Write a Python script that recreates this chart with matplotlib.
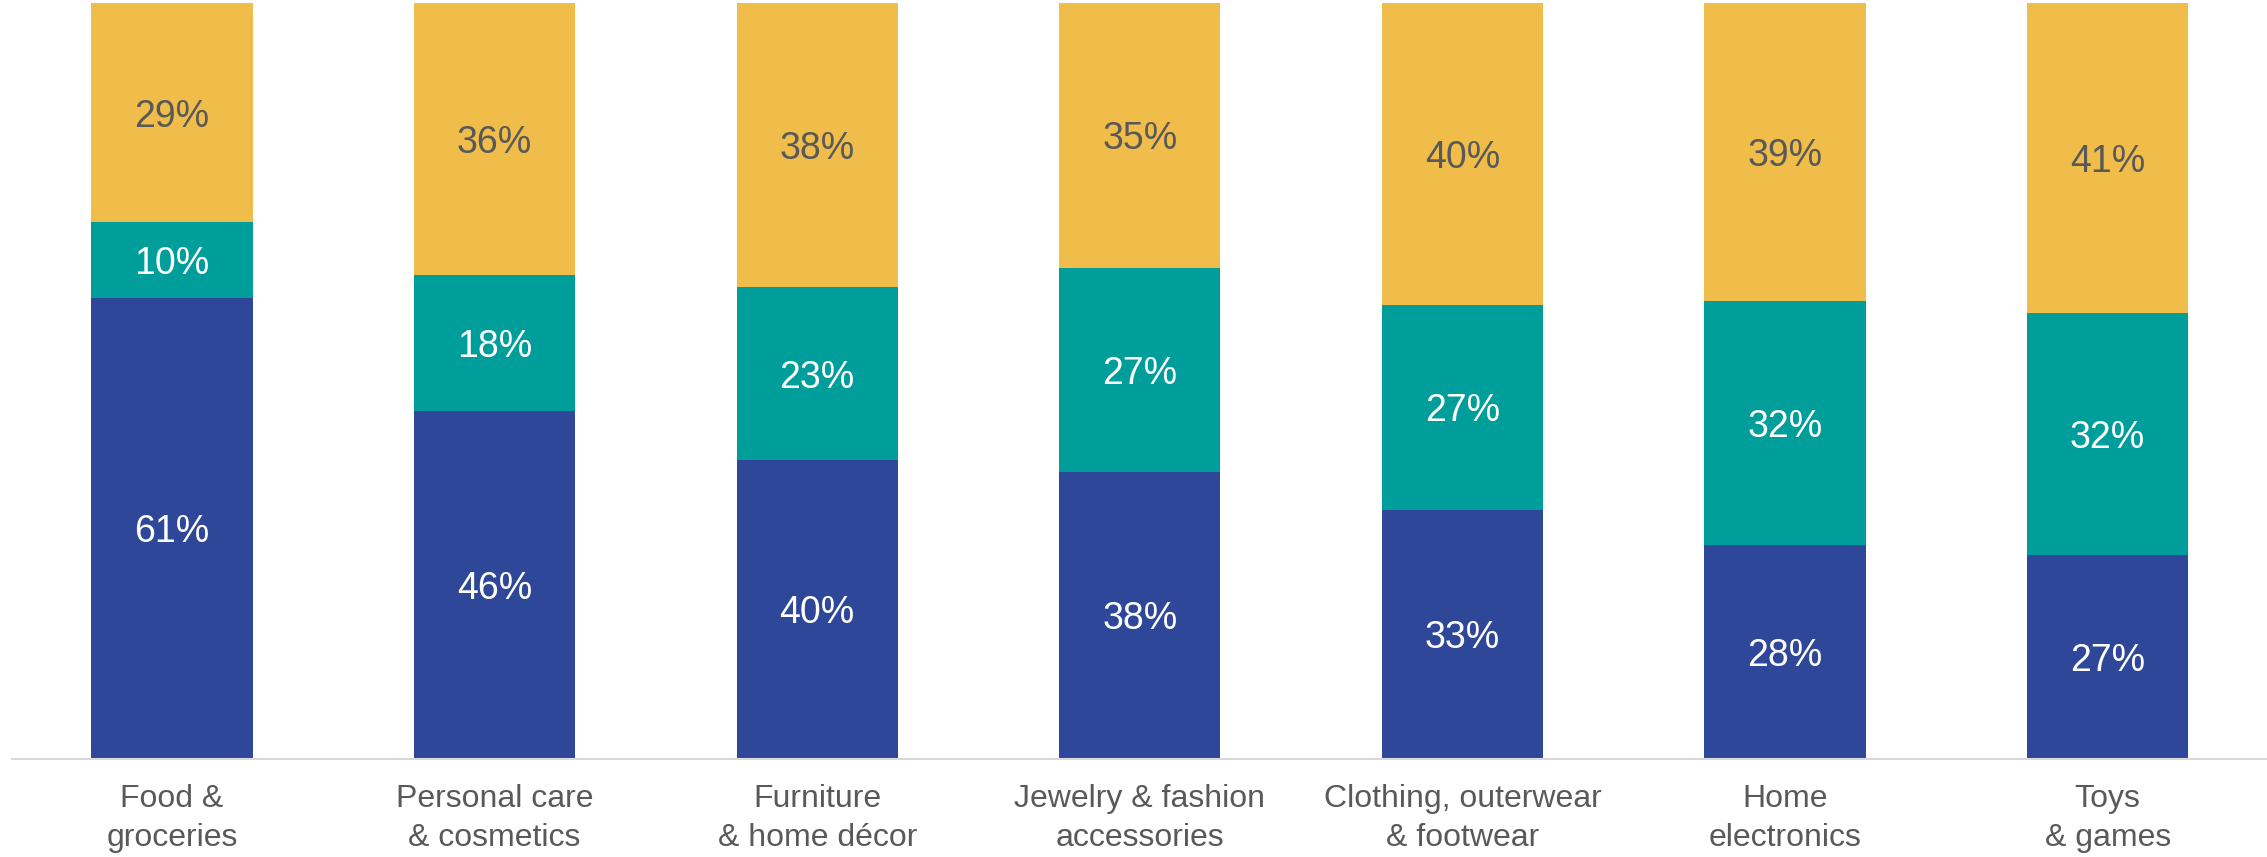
import matplotlib.pyplot as plt
import numpy as np

plt.rcParams['font.family'] = ['Liberation Sans', 'DejaVu Sans']

categories = ["Food &\ngroceries", "Personal care\n& cosmetics", "Furniture\n& home décor",
              "Jewelry & fashion\naccessories", "Clothing, outerwear\n& footwear",
              "Home\nelectronics", "Toys\n& games"]
bottom_vals = [61, 46, 40, 38, 33, 28, 27]
middle_vals = [10, 18, 23, 27, 27, 32, 32]
top_vals = [29, 36, 38, 35, 40, 39, 41]

colors = ["#2F4799", "#009E9B", "#F0BD4A"]
text_colors = ["white", "white", "#595959"]

fig = plt.figure(figsize=(22.67, 8.57), dpi=100)
ax = fig.add_axes([12 / 2267, 1 - 759 / 857, 1 - 12 / 2267, (759 - 3) / 857])

x = np.arange(len(categories))
series = [np.array(bottom_vals, float), np.array(middle_vals, float), np.array(top_vals, float)]
totals = sum(series)

base = np.zeros(len(categories))
for vals, c, tc in zip(series, colors, text_colors):
    h = vals / totals
    ax.bar(x, h, bottom=base, width=0.5, color=c, edgecolor="none")
    for xi, b, hi, v in zip(x, base, h, vals):
        ax.text(xi, b + hi / 2, f"{int(v)}%", ha="center", va="center_baseline",
                fontsize=27, color=tc)
    base = base + h

ax.set_xlim(-0.496, 6.494)
ax.set_ylim(0, 1)
ax.set_xticks(x)
ax.set_xticklabels(categories, fontsize=23, color="#595959", linespacing=1.4)
ax.tick_params(axis="x", length=0, pad=18)
ax.set_yticks([])
for s in ["top", "left", "right"]:
    ax.spines[s].set_visible(False)
ax.spines["bottom"].set_color("#D9D9D9")
ax.spines["bottom"].set_linewidth(1.5)

fig.savefig("out.png", dpi=100)
